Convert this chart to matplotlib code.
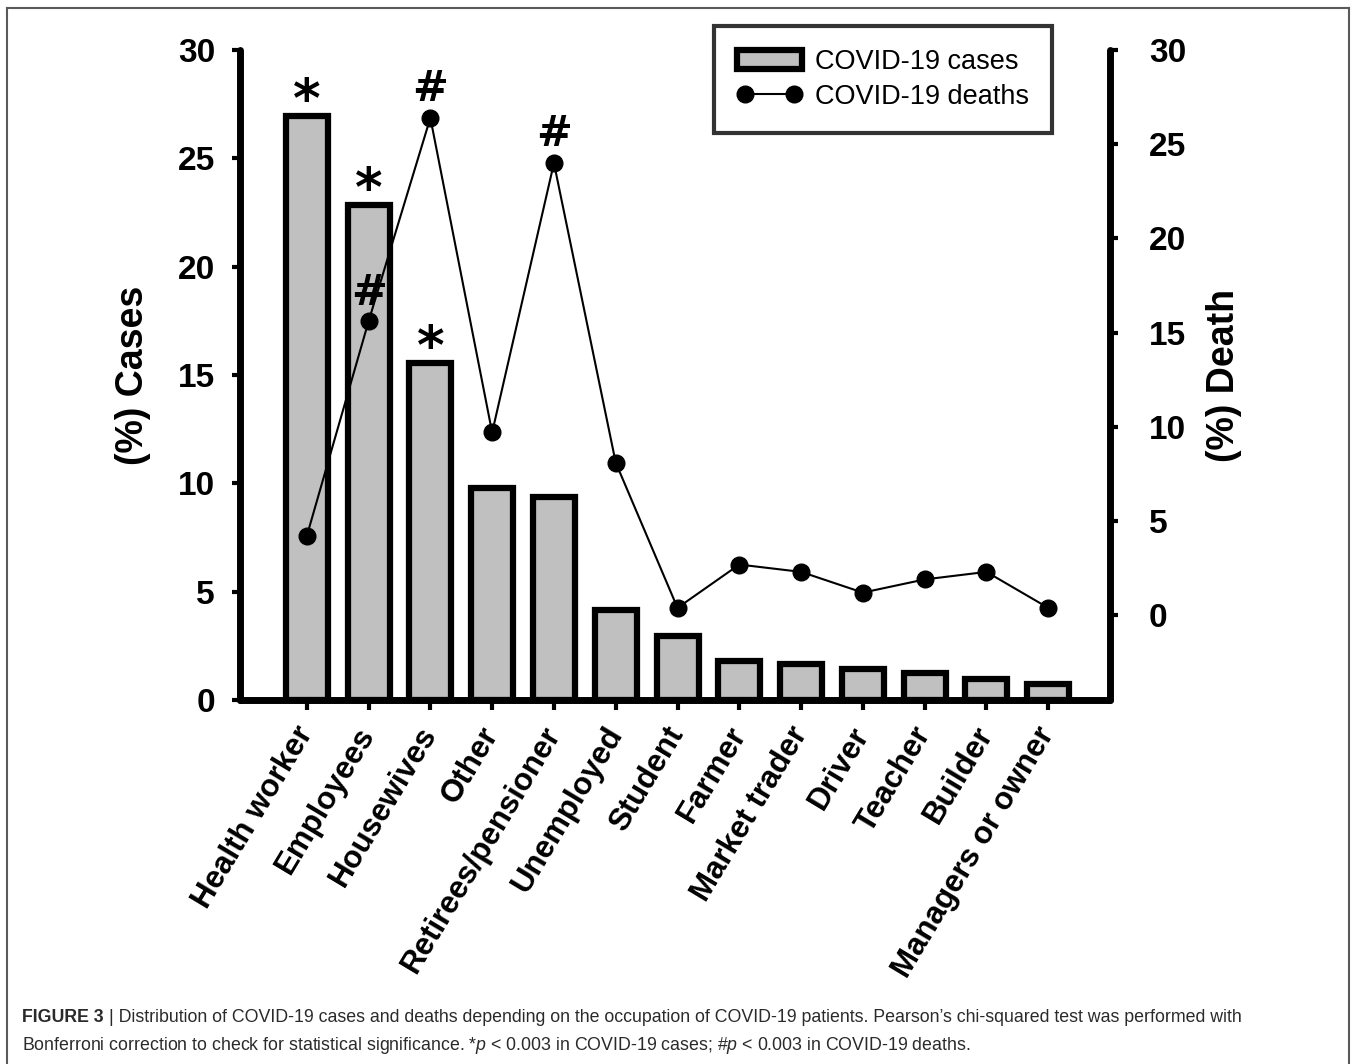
import numpy as np
import matplotlib
matplotlib.use("Agg")
import matplotlib.pyplot as plt
import matplotlib.transforms as mtransforms
from matplotlib.lines import Line2D

plt.rcParams['font.family'] = ['Liberation Sans', 'DejaVu Sans']
plt.rcParams['mathtext.fontset'] = 'custom'
plt.rcParams['mathtext.it'] = 'Liberation Sans:italic'
plt.rcParams['mathtext.rm'] = 'Liberation Sans'

# data
occupations = ["Health worker", "Employees", "Housewives", "Other", "Retirees/pensioner",
               "Unemployed", "Student", "Farmer", "Market trader", "Driver", "Teacher",
               "Builder", "Managers or owner"]
cases_pct = [26.95, 22.85, 15.55, 9.78, 9.37, 4.15, 2.95, 1.8, 1.66, 1.43, 1.25, 0.97, 0.74]
deaths_pct = [4.2, 15.6, 26.4, 9.7, 24.0, 8.1, 0.39, 2.69, 2.3, 1.2, 1.9, 2.3, 0.39]
cases_sig = ["Health worker", "Employees", "Housewives"]
deaths_sig = ["Employees", "Housewives", "Retirees/pensioner"]

caption_bold = "FIGURE 3"
caption_l1 = ("| Distribution of COVID-19 cases and deaths depending on the occupation of "
              "COVID-19 patients. Pearson\u2019s chi-squared test was performed with")
caption_l2 = (r"Bonferroni correction to check for statistical significance. *$p$ < 0.003 in "
              r"COVID-19 cases; #$p$ < 0.003 in COVID-19 deaths.")

fig = plt.figure(figsize=(13.57, 10.64), dpi=100)
ax = fig.add_axes([0.1769, 0.3421, 0.6411, 0.6109])
ax2 = ax.twinx()

x = np.arange(len(occupations))
ax.bar(x, cases_pct, width=0.68, color='#c0c0c0', edgecolor='black', linewidth=4.5,
       label='COVID-19 cases', zorder=2)
ax2.plot(x, deaths_pct, color='black', lw=1.5, marker='o', ms=12,
         label='COVID-19 deaths', zorder=3)

# significance marks
for name in cases_sig:
    i = occupations.index(name)
    ax.annotate('*', (x[i], cases_pct[i]), xytext=(0, -1), textcoords='offset points',
                ha='center', va='baseline', fontsize=38, fontweight='bold',
                family='DejaVu Sans')
for name in deaths_sig:
    i = occupations.index(name)
    ax2.annotate('#', (x[i], deaths_pct[i]), xytext=(0, 12), textcoords='offset points',
                 ha='center', va='baseline', fontsize=31, fontweight='bold',
                 family='DejaVu Sans')

ax.set_xlim(-1.08, len(occupations) - 1 + 1.0)
ax.set_ylim(0, 30)
ax.set_yticks(np.arange(0, 31, 5))
ax2.set_ylim(-4.5, 30)
ax2.set_yticks(np.arange(0, 31, 5))

ax.set_xticks(x)
ax.set_xticklabels(occupations, rotation=59, ha='right', va='center',
                   rotation_mode='anchor', fontsize=22.5, fontweight='bold')
shift = mtransforms.ScaledTranslation(16 / 72, 0, fig.dpi_scale_trans)
for lab in ax.get_xticklabels():
    lab.set_transform(lab.get_transform() + shift)

for a in (ax, ax2):
    for s in a.spines.values():
        s.set_linewidth(5)
        s.set_capstyle('round')
    a.spines['top'].set_visible(False)
ax.spines['right'].set_visible(False)
ax2.spines['left'].set_visible(False)
ax2.spines['bottom'].set_visible(False)

ax.tick_params(axis='y', length=6, width=3, pad=12, labelsize=24)
ax.tick_params(axis='x', length=7, width=3, pad=14)
ax2.tick_params(axis='y', length=6, width=3, pad=22, labelsize=24)
for lab in ax.get_yticklabels() + ax2.get_yticklabels():
    lab.set_fontweight('bold')

ax.set_ylabel('(%) Cases', fontsize=27, fontweight='bold')
ax2.set_ylabel('(%) Death', fontsize=27, fontweight='bold', rotation=90)
ax.yaxis.set_label_coords(-0.102, 0.5)
ax2.yaxis.set_label_coords(1.11, 0.5)
ax2.yaxis.label.set_va('top')

h1, l1 = ax.get_legend_handles_labels()
h2, l2 = ax2.get_legend_handles_labels()
leg = fig.legend(h1 + h2, l1 + l2, loc='upper right', bbox_to_anchor=(0.7755, 0.9755),
                 bbox_transform=fig.transFigure, fontsize=19.5, frameon=True, fancybox=False,
                 edgecolor='black', borderpad=0.85, handlelength=2.4, handletextpad=0.5,
                 labelspacing=0.32, borderaxespad=0, numpoints=2)
leg.get_frame().set_linewidth(3)

# outer frame of the figure panel
fx0, fx1, fy1 = 7 / 1357, 1349 / 1357, 1 - 8 / 1064
for xs, ys in [((fx0, fx0), (0, fy1)), ((fx0, fx1), (fy1, fy1)), ((fx1, fx1), (fy1, 0))]:
    fig.add_artist(Line2D(xs, ys, color='#5a5a5a', lw=1.5, transform=fig.transFigure))

# caption
renderer = fig.canvas.get_renderer()
tb = fig.text(0.0162, 1 - 1017 / 1064, caption_bold, fontsize=12.8, fontweight='bold',
              color='#2a2a2a', va='center')
bb = tb.get_window_extent(renderer)
fig.text((bb.x1 + 5) / 1357, 1 - 1017 / 1064, caption_l1, fontsize=12.8,
         color='#2a2a2a', va='center')
fig.text(0.0162, 1 - 1045 / 1064, caption_l2, fontsize=12.8, color='#2a2a2a', va='center')

fig.savefig('out.png', dpi=100)
